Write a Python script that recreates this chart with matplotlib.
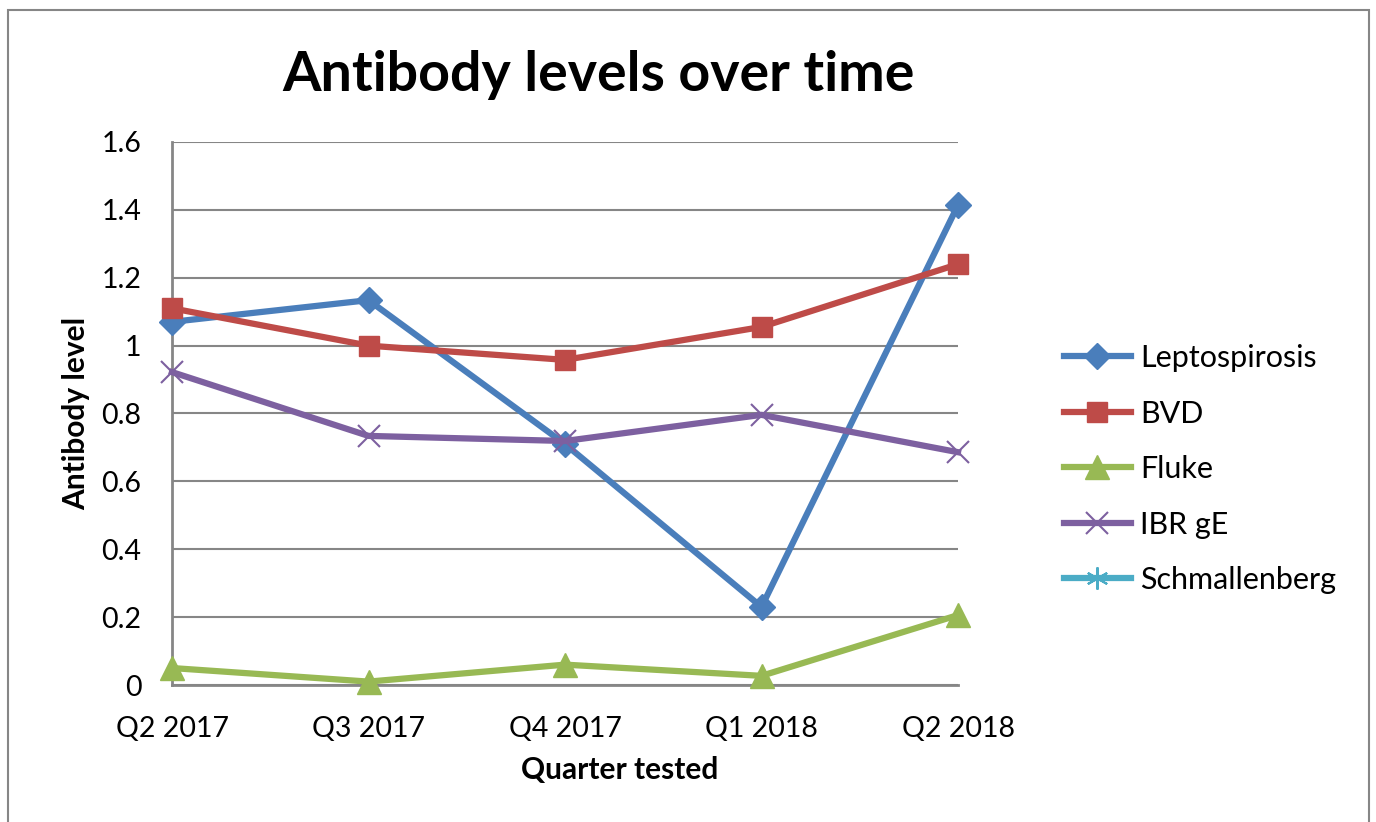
import matplotlib
matplotlib.use('Agg')
import matplotlib.pyplot as plt
from matplotlib.patches import Rectangle

plt.rcParams['font.family'] = ['Lato', 'DejaVu Sans']

quarters = ['Q2 2017', 'Q3 2017', 'Q4 2017', 'Q1 2018', 'Q2 2018']
leptospirosis = [1.07, 1.134, 0.71, 0.23, 1.414]
bvd = [1.11, 1.0, 0.958, 1.055, 1.24]
fluke = [0.05, 0.01, 0.06, 0.027, 0.206]
ibr_ge = [0.922, 0.734, 0.719, 0.796, 0.686]
schmallenberg = []

fig = plt.figure(figsize=(13.76, 8.22), dpi=100)
# outer chart frame
fig.patches.append(Rectangle((8/1376, -0.05), 1361/1376, 1.05 - 10/822, transform=fig.transFigure,
                             fill=False, edgecolor='#868686', linewidth=1.5))

ax = fig.add_axes([172/1376, 1 - 685/822, (958-172)/1376, (685-142)/822])
x = range(len(quarters))

ax.plot(x, leptospirosis, color='#4A7EBB', lw=4.5, marker='D', ms=13, label='Leptospirosis', clip_on=False, zorder=3)
ax.plot(x, bvd, color='#BE4B48', lw=4.5, marker='s', ms=15, label='BVD', clip_on=False, zorder=3)
ax.plot(x, fluke, color='#98B954', lw=4.5, marker='^', ms=17, label='Fluke', clip_on=False, zorder=3)
ax.plot(x, ibr_ge, color='#7D60A0', lw=4.5, marker='x', ms=16, mew=1.5, label='IBR gE', clip_on=False, zorder=3)
ax.plot([], [], color='#4BACC6', lw=4.5, marker=(6, 2, 0), ms=16, mew=1.5, label='Schmallenberg')

ax.set_xlim(0, len(quarters) - 1)
ax.set_ylim(0, 1.6)
ax.set_yticks([0, 0.2, 0.4, 0.6, 0.8, 1.0, 1.2, 1.4, 1.6])
ax.set_yticklabels(['0', '0.2', '0.4', '0.6', '0.8', '1', '1.2', '1.4', '1.6'])
ax.set_xticks(list(x))
ax.set_xticklabels(quarters)
ax.tick_params(axis='x', length=0, labelsize=20.5, pad=22)
ax.tick_params(axis='y', length=0, labelsize=20.5, pad=22)
ax.grid(axis='y', color='#868686', lw=1.5)
ax.set_axisbelow(True)
for s in ['top', 'right']:
    ax.spines[s].set_visible(False)
for s in ['left', 'bottom']:
    ax.spines[s].set_color('#868686')
    ax.spines[s].set_linewidth(2)

ax.set_xlabel('Quarter tested', fontsize=21.5, fontweight='bold', labelpad=9)
ax.xaxis.set_label_coords((620 - 172) / 786, -0.13)
ax.set_ylabel('Antibody level', fontsize=21.5, fontweight='bold', labelpad=8)
fig.text(598/1376, 1 - 75/822, 'Antibody levels over time', fontsize=40, fontweight='bold',
         ha='center', va='center')

fig.legend(loc='center left', bbox_to_anchor=(1036/1376, 1 - 469/822), frameon=False, fontsize=22,
           handlelength=2.2, labelspacing=0.9, handletextpad=0.3)

fig.savefig('out.png', dpi=100)
